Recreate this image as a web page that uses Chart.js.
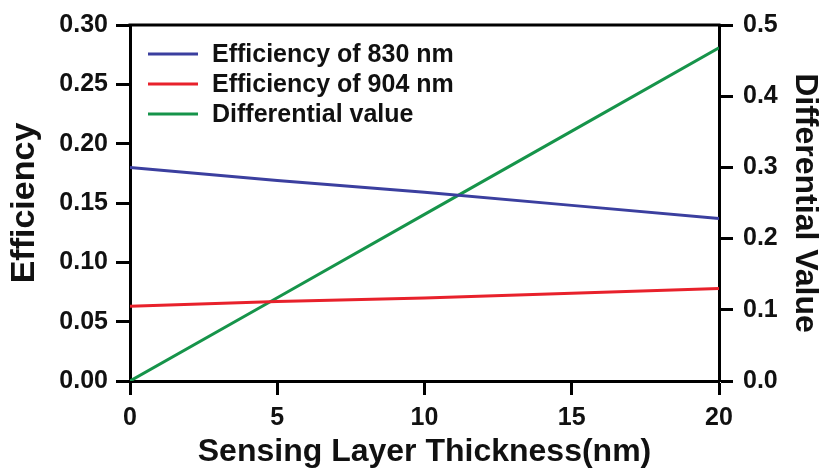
<!DOCTYPE html>
<html>
<head>
<meta charset="utf-8">
<script src="https://cdn.jsdelivr.net/npm/chart.js@4.4.0/dist/chart.umd.min.js"></script>
<style>
  html, body { margin: 0; padding: 0; background: #fff; }
  canvas { display: block; }
</style>
</head>
<body>
<canvas id="chart" width="832" height="471"></canvas>
<script>
const thickness = [0, 5, 10, 15, 20];
const eff830 = [0.180, 0.169, 0.159, 0.148, 0.137];
const eff904 = [0.063, 0.067, 0.070, 0.074, 0.078];
const diffValue = [0.000, 0.117, 0.234, 0.351, 0.468];

const seriesLabels = ['Efficiency of 830 nm', 'Efficiency of 904 nm', 'Differential value'];
const seriesColors = ['#3b3f9f', '#e8212b', '#16944a'];

function toPoints(values) {
  return thickness.map((x, i) => ({ x: x, y: values[i] }));
}

const FONT = "'Liberation Sans', Arial, sans-serif";

// frame top line + legend inside the plot
const framePlugin = {
  id: 'frame',
  afterDatasetsDraw(chart) {
    const { ctx, chartArea } = chart;
    ctx.save();
    ctx.strokeStyle = '#000';
    ctx.lineWidth = 3;
    ctx.beginPath();
    ctx.moveTo(chartArea.left - 1.5, chartArea.top);
    ctx.lineTo(chartArea.right + 1.5, chartArea.top);
    ctx.stroke();

    ctx.font = 'bold 25px ' + FONT;
    ctx.textBaseline = 'middle';
    ctx.fillStyle = '#111';
    chart.data.datasets.forEach((ds, i) => {
      const y = chartArea.top + 29 + i * 30;
      ctx.strokeStyle = ds.borderColor;
      ctx.lineWidth = 3;
      ctx.beginPath();
      ctx.moveTo(chartArea.left + 18, y);
      ctx.lineTo(chartArea.left + 68, y);
      ctx.stroke();
      ctx.fillText(ds.label, chartArea.left + 82, y + 1);
    });
    ctx.restore();
  }
};

new Chart(document.getElementById('chart').getContext('2d'), {
  type: 'line',
  data: {
    datasets: [
      { label: seriesLabels[0], data: toPoints(eff830), borderColor: seriesColors[0], yAxisID: 'y' },
      { label: seriesLabels[1], data: toPoints(eff904), borderColor: seriesColors[1], yAxisID: 'y' },
      { label: seriesLabels[2], data: toPoints(diffValue), borderColor: seriesColors[2], yAxisID: 'y1' }
    ]
  },
  options: {
    responsive: false,
    animation: false,
    layout: { padding: { top: 22, left: 0, right: 0, bottom: 0 } },
    elements: {
      line: { borderWidth: 3, tension: 0 },
      point: { radius: 0 }
    },
    plugins: {
      legend: { display: false },
      tooltip: { enabled: false }
    },
    scales: {
      x: {
        type: 'linear',
        min: 0,
        max: 20,
        ticks: { stepSize: 5, color: '#111', padding: 8, font: { family: FONT, size: 25, weight: 'bold' } },
        grid: { drawOnChartArea: false, tickLength: 14, tickWidth: 3, tickColor: '#000' },
        border: { color: '#000', width: 3 },
        title: {
          display: true,
          text: 'Sensing Layer Thickness(nm)',
          color: '#111',
          font: { family: FONT, size: 32, weight: 'bold', lineHeight: 1 },
          padding: { top: 0, bottom: 3 }
        },
        afterFit(scale) { scale.height = 90; }
      },
      y: {
        position: 'left',
        min: 0,
        max: 0.3,
        ticks: {
          stepSize: 0.05, color: '#111', padding: 8,
          font: { family: FONT, size: 25, weight: 'bold' },
          callback: v => v.toFixed(2)
        },
        grid: { drawOnChartArea: false, tickLength: 14, tickWidth: 3, tickColor: '#000' },
        border: { color: '#000', width: 3 },
        title: {
          display: true,
          text: 'Efficiency',
          color: '#111',
          font: { family: FONT, size: 34, weight: 'bold', lineHeight: 1 },
          padding: { top: 8, bottom: 0 }
        },
        afterFit(scale) { scale.width = 130; }
      },
      y1: {
        position: 'right',
        min: 0,
        max: 0.5,
        ticks: {
          stepSize: 0.1, color: '#111', padding: 10,
          font: { family: FONT, size: 25, weight: 'bold' },
          callback: v => v.toFixed(1)
        },
        grid: { drawOnChartArea: false, tickLength: 14, tickWidth: 3, tickColor: '#000' },
        border: { color: '#000', width: 3 },
        title: {
          display: true,
          text: 'Differential Value',
          color: '#111',
          font: { family: FONT, size: 32, weight: 'bold', lineHeight: 1 },
          padding: { top: 11, bottom: 0 }
        },
        afterFit(scale) { scale.width = 113; }
      }
    }
  },
  plugins: [framePlugin]
});
</script>
</body>
</html>
